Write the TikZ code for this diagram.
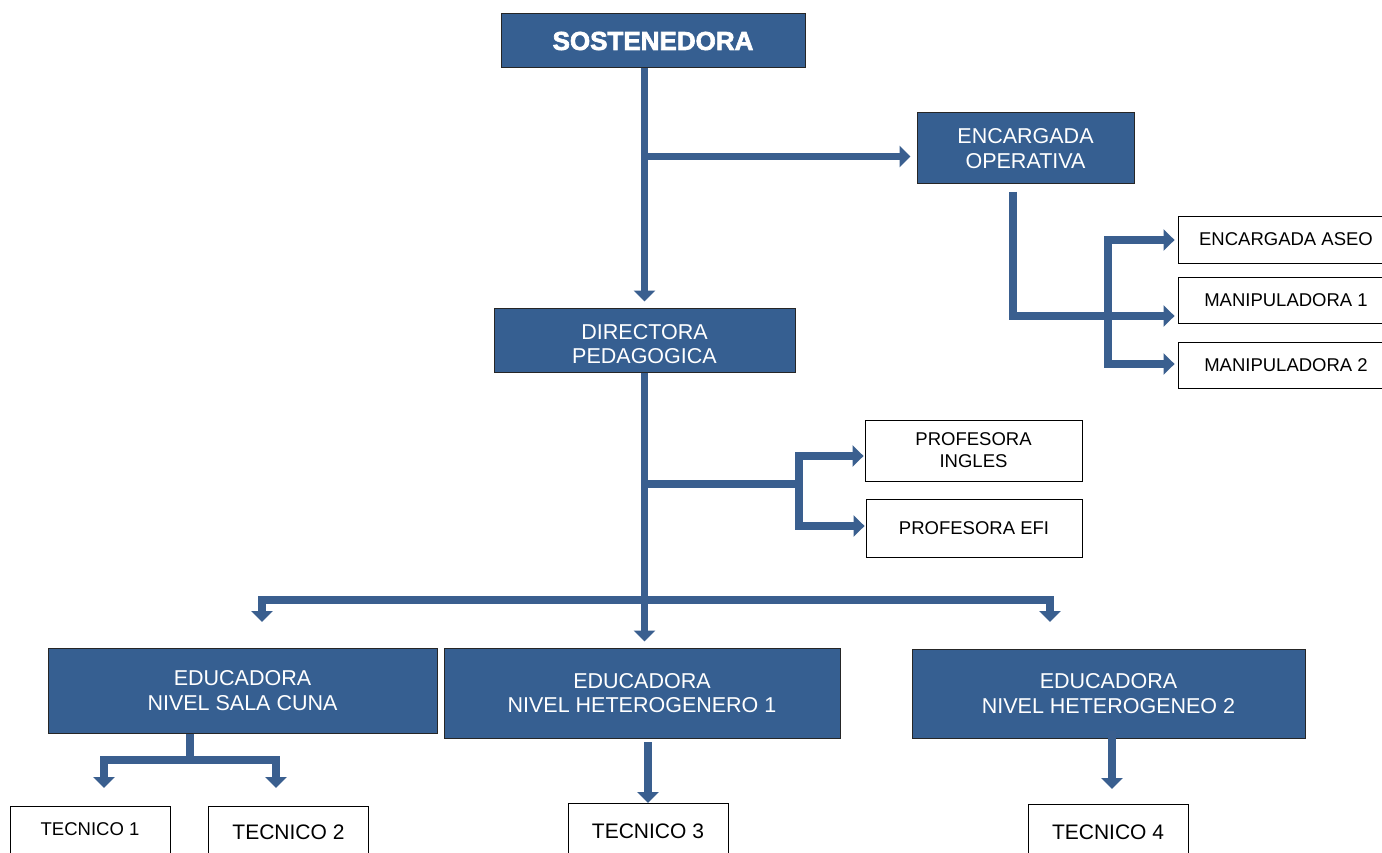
\documentclass[tikz,border=0pt]{standalone}
\usepackage{fontspec}
\setmainfont{Liberation Sans}
\newfontfamily\heavyfont[BoldFeatures={FakeBold=2.5}]{Liberation Sans}
\usetikzlibrary{arrows.meta}
\definecolor{boxblue}{HTML}{365F91}
\definecolor{linkblue}{HTML}{3A5F8F}
\tikzset{
 bluebox/.style={draw=black!85, line width=1pt, fill=boxblue, text=white, inner sep=0pt, align=center, font=\fontsize{21.5}{24.5}\selectfont},
 whitebox/.style={draw=black, line width=0.9pt, fill=white, inner sep=0pt, align=center, font=\fontsize{18.5}{22}\selectfont},
 tecbox/.style={whitebox, anchor=north, minimum width=160pt, minimum height=70pt, text height=15pt, text depth=19pt, font=\fontsize{21}{24}\selectfont},
 conn/.style={draw=linkblue, line width=7.5pt, line join=miter, -{Triangle[width=21pt,length=11pt]}},
 bar/.style={draw=linkblue, line width=7.5pt, line join=miter},
}
\begin{document}
\begin{tikzpicture}[x=1pt,y=-1pt]
\useasboundingbox (0,0) rectangle (1382,853);
\fill[white] (0,0) rectangle (1382,853);
% nodes
\node[bluebox, minimum width=304pt, minimum height=54pt, font=\heavyfont\bfseries\fontsize{26}{30}\selectfont] (sost) at (653,41) {SOSTENEDORA};
\node[bluebox, minimum width=217pt, minimum height=71pt] (encop) at (1025.5,148.5) {ENCARGADA\\OPERATIVA};
\node[bluebox, minimum width=301pt, minimum height=64pt, text height=48pt] (dir) at (644.5,340) {DIRECTORA\\PEDAGOGICA};
\node[whitebox, minimum width=216pt, minimum height=47pt] (aseo) at (1286,239.5) {ENCARGADA ASEO};
\node[whitebox, minimum width=216pt, minimum height=46pt] (man1) at (1286,300) {MANIPULADORA 1};
\node[whitebox, minimum width=216pt, minimum height=46pt] (man2) at (1286,365) {MANIPULADORA 2};
\node[whitebox, minimum width=217pt, minimum height=61pt] (ingles) at (973.5,450.5) {PROFESORA\\INGLES};
\node[whitebox, minimum width=216pt, minimum height=58pt] (efi) at (974,528) {PROFESORA EFI};
\node[bluebox, minimum width=389pt, minimum height=85pt] (cuna) at (242.5,690.5) {EDUCADORA\\NIVEL SALA CUNA};
\node[bluebox, minimum width=396pt, minimum height=90pt] (het1) at (642,693) {EDUCADORA\\NIVEL HETEROGENERO 1};
\node[bluebox, minimum width=393pt, minimum height=89pt] (het2) at (1108.5,693.5) {EDUCADORA\\NIVEL HETEROGENEO 2};
\node[tecbox, font=\fontsize{18.5}{22}\selectfont, text depth=27pt] (tec1) at (90,806) {TECNICO 1};
\node[tecbox] (tec2) at (288.5,806) {TECNICO 2};
\node[tecbox, text depth=15pt] (tec3) at (648,803) {TECNICO 3};
\node[tecbox, text depth=15pt] (tec4) at (1108,804) {TECNICO 4};
% junction coordinates
\coordinate (j1) at (644.5,156.5);
\coordinate (e1) at (1013,192);
\coordinate (e2) at (1013,316);
\coordinate (v1) at (1108,240);
\coordinate (v2) at (1108,364);
\coordinate (d1) at (644.5,484);
\coordinate (d0) at (799,484);
\coordinate (d2) at (799,456);
\coordinate (d3) at (799,526);
\coordinate (b0) at (644.5,600);
\coordinate (bl) at (262,600);
\coordinate (br) at (1050,600);
\coordinate (blt) at (262,622);
\coordinate (brt) at (1050,622);
\coordinate (c1) at (190,760);
\coordinate (clt) at (104,788);
\coordinate (crt) at (276,788);
\coordinate (h2) at (1112,731);
% connectors
\draw[conn, shorten >=6pt] (sost.south -| dir.north) -- (dir.north);
\draw[conn, shorten >=6pt] (j1) -- (j1 -| encop.west);
\draw[conn, shorten >=3pt] (e1) -- (e2) -- (e2 -| man1.west);
\draw[conn, shorten >=3pt] (v2) -- (v1) -- (v1 -| aseo.west);
\draw[conn, shorten >=3pt] (v1) -- (v2) -- (v2 -| man2.west);
\draw[conn, shorten >=6pt] (dir.south) -- (dir.south |- het1.north);
\draw[conn, shorten >=1pt] (d1) -- (d0) -- (d2) -- (d2 -| ingles.west);
\draw[conn, shorten >=1pt] (d0) -- (d3) -- (d3 -| efi.west);
\draw[conn, line width=8.5pt] (b0) -- (bl) -- (blt);
\draw[conn, line width=8.5pt] (b0) -- (br) -- (brt);
\draw[bar] (c1 |- cuna.south) -- (c1);
\draw[conn] (c1) -| (clt);
\draw[conn] (c1) -| (crt);
\draw[conn] ([yshift=-3.5pt]tec3.north |- het1.south) -- (tec3.north);
\draw[conn, shorten >=15pt] (h2) -- (h2 |- tec4.north);
\end{tikzpicture}
\end{document}
